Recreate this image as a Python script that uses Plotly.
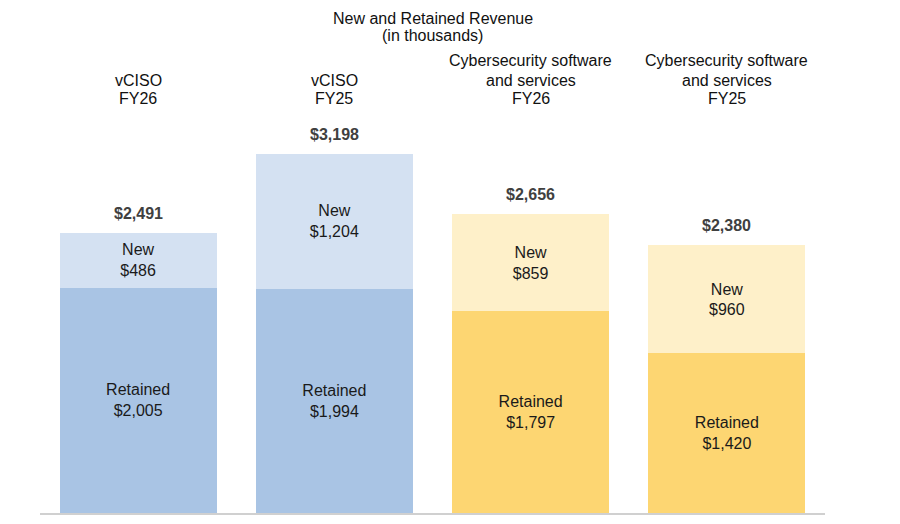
import plotly.graph_objects as go

categories = ["vCISO<br>FY26", "vCISO<br>FY25",
              "Cybersecurity software<br>and services<br>FY26",
              "Cybersecurity software<br>and services<br>FY25"]
title_lines = ["New and Retained Revenue", "(in thousands)"]
retained = [2005, 1994, 1797, 1420]
new = [486, 1204, 859, 960]
totals = [r + n for r, n in zip(retained, new)]

retained_colors = ["#a9c4e4", "#a9c4e4", "#fdd672", "#fdd672"]
new_colors = ["#d4e1f2", "#d4e1f2", "#fef0c9", "#fef0c9"]

x = list(range(len(categories)))
font = "Liberation Sans, Arial, sans-serif"
PLOT_H = 505  # plot area height in px (page is offset 8px by body margin)


def paper_y(page_y):
    return 1 - (page_y - 8) / PLOT_H


fig = go.Figure()
fig.add_trace(go.Bar(
    x=x, y=retained, marker=dict(color=retained_colors, line=dict(width=0)),
    text=["Retained<br>${:,}".format(v) for v in retained],
    textposition="inside", insidetextanchor="middle",
    textfont=dict(size=16, color="#1a1a1a", family=font),
    hoverinfo="skip"))
fig.add_trace(go.Bar(
    x=x, y=new, marker=dict(color=new_colors, line=dict(width=0)),
    text=["New<br>${:,}".format(v) for v in new],
    textposition="inside", insidetextanchor="middle",
    textfont=dict(size=16, color="#1a1a1a", family=font),
    hoverinfo="skip"))

annotations = []
for i, t in enumerate(totals):
    annotations.append(dict(x=i, y=t, xref="x", yref="y", yanchor="bottom", yshift=9,
                            text="<b>${:,}</b>".format(t), showarrow=False,
                            font=dict(size=16, color="#404040", family=font)))

# category headers, bottom line aligned across bars, 19px line spacing
for i, c in enumerate(categories):
    lines = c.split("<br>")
    for k, line in enumerate(lines):
        py_ = 99 - 19 * (len(lines) - 1 - k)
        annotations.append(dict(x=i, y=paper_y(py_), xref="x", yref="paper", yanchor="middle",
                                text=line, showarrow=False,
                                font=dict(size=16, color="#111111", family=font)))

# chart title, first line pinned to the top edge so it is not clipped
annotations.append(dict(x=0.5, y=1, xref="paper", yref="paper", yanchor="top",
                        text=title_lines[0], showarrow=False,
                        font=dict(size=16, color="#111111", family=font)))
annotations.append(dict(x=0.5, y=paper_y(35), xref="paper", yref="paper", yanchor="middle",
                        text=title_lines[1], showarrow=False,
                        font=dict(size=16, color="#111111", family=font)))

fig.update_layout(
    barmode="stack", bargap=0.2, showlegend=False,
    width=900, height=524,
    margin=dict(l=32, r=83, t=0, b=19),
    plot_bgcolor="white", paper_bgcolor="white",
    xaxis=dict(range=[-0.5, 3.5], showticklabels=False, showgrid=False, zeroline=False,
               showline=True, linecolor="#d0d0d0", linewidth=2, ticks=""),
    yaxis=dict(range=[0, 4493], visible=False, showgrid=False),
    annotations=annotations,
)

fig.write_html("out.html")
